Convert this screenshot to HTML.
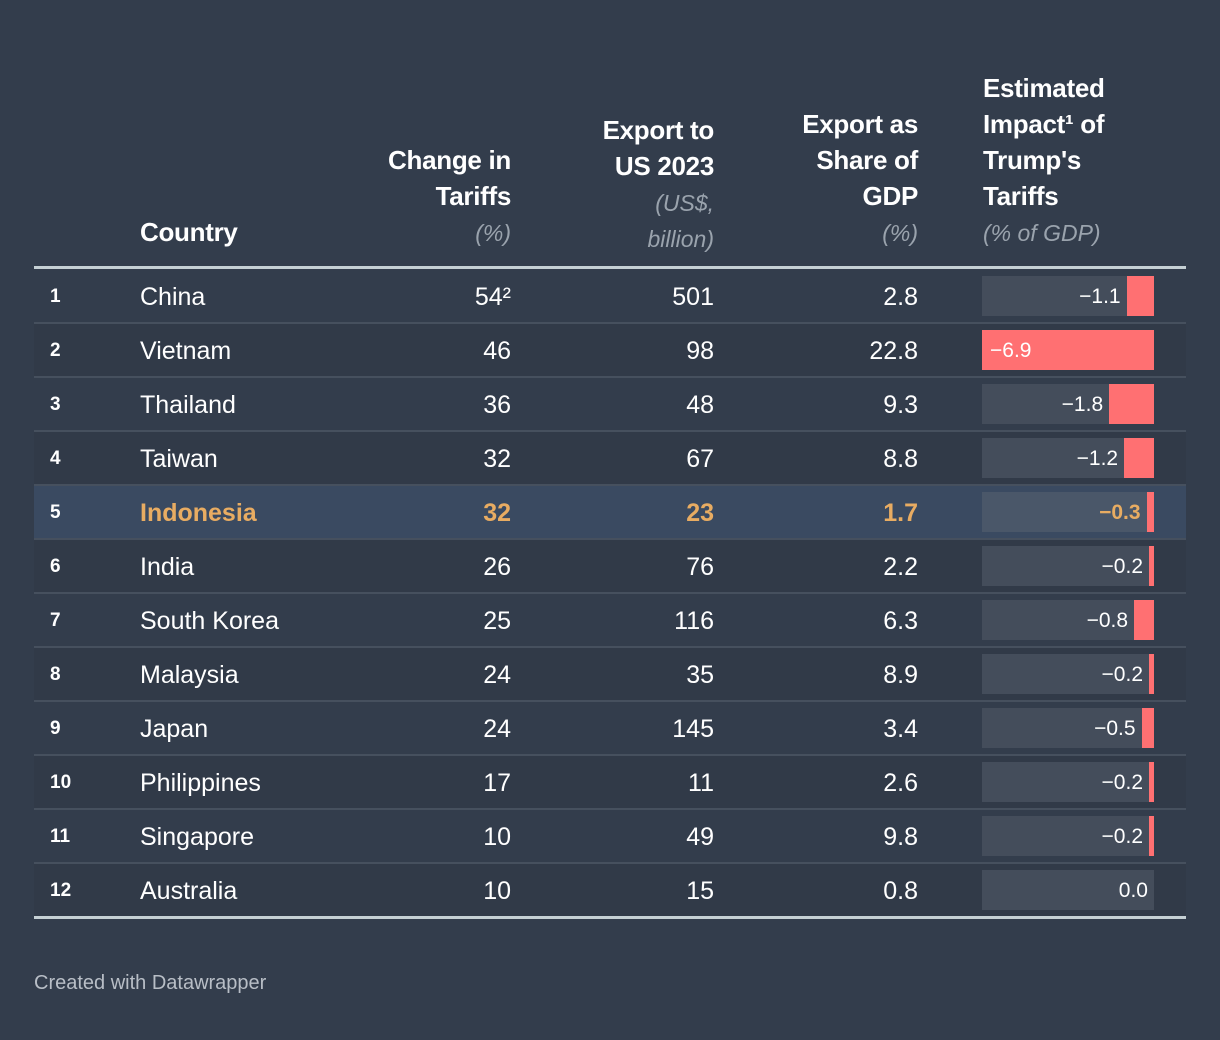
<!DOCTYPE html>
<html><head><meta charset="utf-8">
<style>
html,body{margin:0;padding:0;}
body{width:1220px;height:1040px;background:#333d4c;font-family:"Liberation Sans",sans-serif;color:#fff;position:relative;overflow:hidden;}
.a{position:absolute;white-space:nowrap;}
.h{font-weight:bold;font-size:26px;line-height:36px;text-align:right;letter-spacing:-0.3px;}
.sub{font-style:italic;font-weight:normal;color:#9aa3ad;font-size:23px;line-height:31px;letter-spacing:0;}
.cell{font-size:25px;line-height:54px;}
</style></head>
<body>
<div class="a h" style="left:140px;top:214px;text-align:left;">Country</div>
<div class="a h" style="right:709px;top:142px;">Change in<br>Tariffs<br><span class="sub">(%)</span></div>
<div class="a h" style="right:506px;top:112px;">Export to<br>US 2023<br><span class="sub">(US$,<br>billion)</span></div>
<div class="a h" style="right:302px;top:106px;">Export as<br>Share of<br>GDP<br><span class="sub">(%)</span></div>
<div class="a h" style="left:983px;top:70px;text-align:left;">Estimated<br>Impact¹ of<br>Trump's<br>Tariffs<br><span class="sub">(% of GDP)</span></div>
<div class="a" style="left:34px;top:266px;width:1152px;height:3px;background:#c5d0d4;"></div>
<div id="rows"></div>
<div class="a" style="left:34px;top:972px;font-size:20px;color:#b8bec6;">Created with Datawrapper</div>
<script>
const countries=["China","Vietnam","Thailand","Taiwan","Indonesia","India","South Korea","Malaysia","Japan","Philippines","Singapore","Australia"];
const tariffs=["54²","46","36","32","32","26","25","24","24","17","10","10"];
const exportsUS=[501,98,48,67,23,76,116,35,145,11,49,15];
const shareGDP=["2.8","22.8","9.3","8.8","1.7","2.2","6.3","8.9","3.4","2.6","9.8","0.8"];
const impact=[-1.1,-6.9,-1.8,-1.2,-0.3,-0.2,-0.8,-0.2,-0.5,-0.2,-0.2,0.0];
const highlight=4;
const root=document.getElementById('rows');
const top0=269,rowH=54,barL=982,barW=172,maxAbs=6.9;
const x=v=>Math.abs(v)/maxAbs*barW;
function mk(parent,style,text){const d=document.createElement('div');d.className='a';d.style.cssText=style;if(text!==undefined)d.textContent=text;parent.appendChild(d);return d;}
countries.forEach((c,i)=>{
  const y=top0+i*rowH;
  const hl=i===highlight;
  const bg=hl?'#3a4a61':(i%2?'#313a48':'#333d4c');
  const row=mk(root,`left:34px;top:${y}px;width:1152px;height:${rowH}px;background:${bg};`);
  
  
  if(i>0){const s=mk(root,`left:34px;top:${y-1}px;width:1152px;height:2px;background:#46505e;`);
    
    }
  const col=hl?'#e8ac62':'#fff';const fw=hl?'bold':'normal';
  const r=mk(root,`left:50px;top:${y+1}px;font-size:19px;font-weight:bold;line-height:54px;`,String(i+1));
  
  
  const n=mk(root,`left:140px;top:${y+1}px;font-size:25px;line-height:54px;color:${col};font-weight:${fw};`,c);
  
  
  const t=mk(root,`right:709px;top:${y+1}px;font-size:25px;line-height:54px;color:${col};font-weight:${fw};`,tariffs[i]);
  
  
  const e=mk(root,`right:506px;top:${y+1}px;font-size:25px;line-height:54px;color:${col};font-weight:${fw};`,String(exportsUS[i]));
  
  
  const g=mk(root,`right:302px;top:${y+1}px;font-size:25px;line-height:54px;color:${col};font-weight:${fw};`,shareGDP[i]);
  
  
  const tr=mk(root,`left:${barL}px;top:${y+7}px;width:${barW}px;height:40px;background:${hl?'#4a5769':'#444d5b'};`);
  
  
  const w=x(impact[i]);
  const b=mk(root,`left:${barL+barW-w}px;top:${y+7}px;width:${w}px;height:40px;background:#ff7072;`);
  
  
  const lbl=(impact[i]<0?'−':'')+Math.abs(impact[i]).toFixed(1);
  let st;
  if(w>barW*0.6) st=`left:${barL+8}px;`; else st=`right:${1220-(barL+barW-w)+6}px;`;
  const l=mk(root,st+`top:${y+8}px;font-size:21px;line-height:40px;color:${hl?'#e8ac62':'#fff'};font-weight:${fw};`,lbl);
  
  
});
const bot=mk(root,`left:34px;top:${top0+countries.length*rowH-1}px;width:1152px;height:3px;background:#c5d0d4;`);


</script>
</body></html>
